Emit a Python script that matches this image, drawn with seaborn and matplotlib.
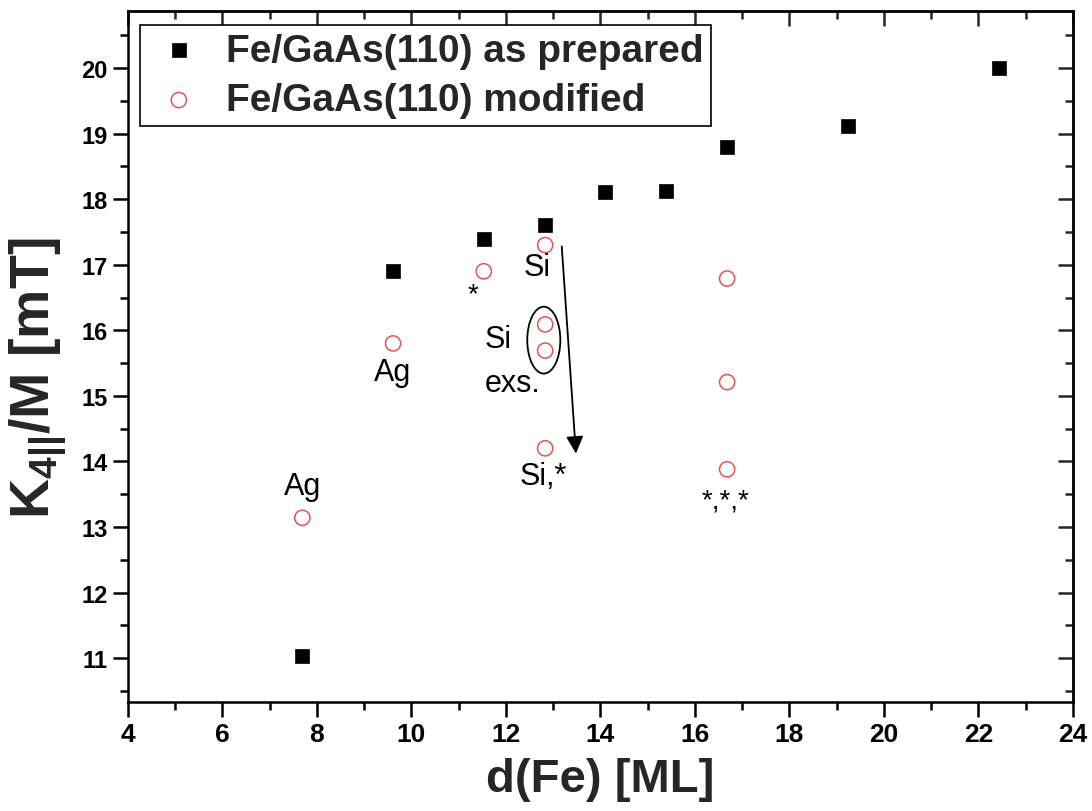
import matplotlib
matplotlib.use("Agg")
import matplotlib.pyplot as plt
from matplotlib.patches import Ellipse
from matplotlib.ticker import MultipleLocator
import seaborn as sns
import pandas as pd

# Fe film thickness (ML) and fourfold in-plane anisotropy K4||/M (mT)
x_prepared = [7.69, 9.61, 11.53, 12.83, 14.10, 15.39, 16.68, 19.24, 22.43]
y_prepared = [11.03, 16.90, 17.40, 17.60, 18.11, 18.12, 18.79, 19.11, 20.00]

x_modified = [7.69, 9.61, 11.53, 12.83, 12.83, 12.83, 12.83, 16.68, 16.68, 16.68]
y_modified = [13.14, 15.80, 16.90, 17.30, 16.09, 15.69, 14.20, 16.79, 15.21, 13.88]

label_prepared = "Fe/GaAs(110) as prepared"
label_modified = "Fe/GaAs(110) modified"

sns.set_theme(style="white")
plt.rcParams["font.family"] = ["Liberation Sans", "DejaVu Sans"]
plt.rcParams["mathtext.default"] = "regular"

RED = "#e8524f"

fig = plt.figure(figsize=(10.92, 8.12), dpi=100)
ax = fig.add_axes([0.1172, 0.1342, 0.8654, 0.8510])

df_p = pd.DataFrame({"d": x_prepared, "K": y_prepared})
df_m = pd.DataFrame({"d": x_modified, "K": y_modified})

sns.scatterplot(data=df_p, x="d", y="K", marker="s", s=105, color="black",
                edgecolor="black", linewidth=0.5, label=label_prepared, ax=ax, zorder=3)
sns.scatterplot(data=df_m, x="d", y="K", marker="o", s=120, facecolor="none",
                edgecolor=RED, linewidth=1.1, label=label_modified, ax=ax, zorder=3)

# sample annotations
notes = [
    ("Ag", 7.69, 13.62),
    ("Ag", 9.61, 15.36),
    ("Si", 12.66, 16.96),
    ("Si", 11.83, 15.86),
    ("exs.", 12.15, 15.20),
    ("Si,*", 12.80, 13.78),
]
for txt, tx, ty in notes:
    ax.text(tx, ty, txt, ha="center", va="center", fontsize=22, color="black", zorder=4)

ax.text(11.30, 16.55, "*", ha="center", va="center", fontsize=20, color="black")
ax.text(16.64, 13.40, "*,*,*", ha="center", va="center", fontsize=20, color="black")

ax.add_patch(Ellipse((12.80, 15.85), 0.70, 1.02, fill=False, edgecolor="black", lw=1.3, zorder=4))
ax.annotate("", xy=(13.48, 14.12), xytext=(13.18, 17.28),
            arrowprops=dict(arrowstyle="-|>", color="black", lw=1.3, mutation_scale=26,
                            shrinkA=0, shrinkB=0))

ax.set_xlim(4, 24)
ax.set_ylim(10.33, 20.87)
ax.xaxis.set_major_locator(MultipleLocator(2))
ax.xaxis.set_minor_locator(MultipleLocator(1))
ax.yaxis.set_major_locator(MultipleLocator(1))
ax.yaxis.set_minor_locator(MultipleLocator(0.5))

for sp in ax.spines.values():
    sp.set_visible(True)
    sp.set_color("black")
    sp.set_linewidth(1.8)

ax.tick_params(axis="both", which="major", direction="out", length=11, width=1.8,
               colors="black", bottom=True, left=True, top=False, right=False)
ax.tick_params(axis="both", which="minor", direction="out", length=6, width=1.8,
               colors="black", bottom=True, left=True, top=False, right=False)
for lab in ax.get_yticklabels():
    lab.set_fontsize(17)
    lab.set_fontweight("bold")
for lab in ax.get_xticklabels():
    lab.set_fontsize(19)
    lab.set_fontweight("bold")

# inward ticks along the top and right frame
top = ax.secondary_xaxis("top")
top.xaxis.set_major_locator(MultipleLocator(2))
top.xaxis.set_minor_locator(MultipleLocator(1))
top.tick_params(which="major", direction="in", length=11, width=1.8, labeltop=False)
top.tick_params(which="minor", direction="in", length=6, width=1.8)
top.spines["top"].set_linewidth(1.8)
right = ax.secondary_yaxis("right")
right.yaxis.set_major_locator(MultipleLocator(1))
right.yaxis.set_minor_locator(MultipleLocator(0.5))
right.tick_params(which="major", direction="in", length=11, width=1.8, labelright=False)
right.tick_params(which="minor", direction="in", length=6, width=1.8)
right.spines["right"].set_linewidth(1.8)

ax.set_xlabel("d(Fe) [ML]", fontsize=34, fontweight="bold", labelpad=8)
ax.set_ylabel("K$_{4||}$/M [mT]", fontsize=40, fontweight="bold")
ax.yaxis.set_label_coords(-0.062, 0.47)

leg = ax.legend(loc="upper left", bbox_to_anchor=(0.0127, 0.980), borderaxespad=0,
                frameon=True, fancybox=False, edgecolor="black", framealpha=1,
                prop={"weight": "bold", "size": 28}, handletextpad=0.4,
                borderpad=0.2, labelspacing=0.35, handlelength=1.6)
leg.get_frame().set_linewidth(1.2)

fig.savefig("out.png", dpi=100)
